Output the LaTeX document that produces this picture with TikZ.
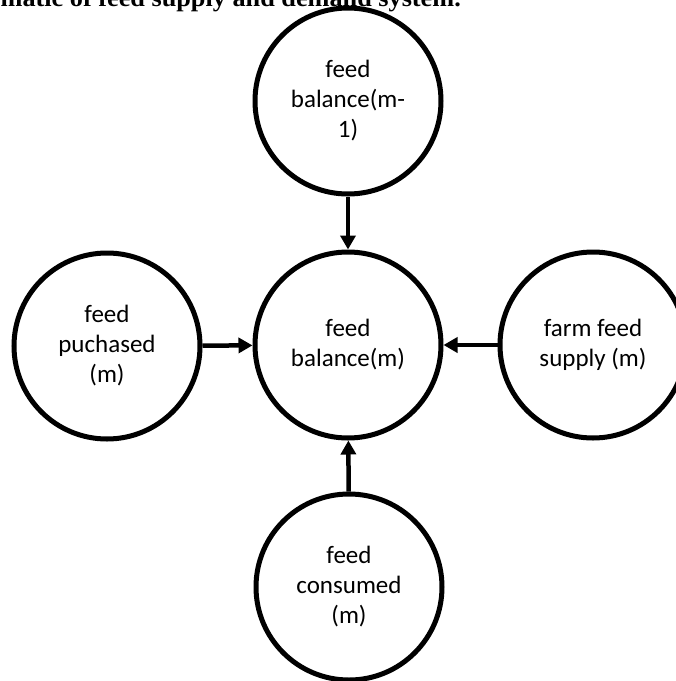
\documentclass[tikz,border=0pt]{standalone}
\usepackage{fontspec}
\setmainfont{Carlito}
\newfontfamily\titlefont{Liberation Serif}
\usetikzlibrary{positioning,arrows.meta}

\tikzset{
  stock/.style={circle, draw, line width=5pt, minimum size=186pt, inner sep=0pt,
    align=center, font=\fontsize{25}{30}\selectfont},
  flow/.style={line width=4.5pt, -{Triangle[length=14pt,width=15pt]}}
}

\begin{document}
\begin{tikzpicture}[x=1pt,y=1pt]
        \clip (0,0) rectangle (676,-681);
        \node[anchor=base west, xscale=1.05, font=\titlefont\bfseries\fontsize{25}{28}\selectfont] (title) at (-3,-6) {matic of feed supply and demand system.};
        \node[stock] (prev) at (348,-101) {feed\\balance(m-\\1)};
        \node[stock] (bal) at (348,-345) {feed\\balance(m)};
        \node[stock] (buy) at (107,-346) {feed\\puchased\\(m)};
        \node[stock] (farm) at (593,-345) {farm feed\\supply (m)};
        \node[stock] (eat) at (349,-587) {feed\\consumed\\(m)};
        \draw[flow] (prev) -- (bal);
        \draw[flow] (buy) -- (bal);
        \draw[flow] (farm) -- (bal);
        \draw[flow] (eat) -- (bal);
    \end{tikzpicture}
\end{document}
